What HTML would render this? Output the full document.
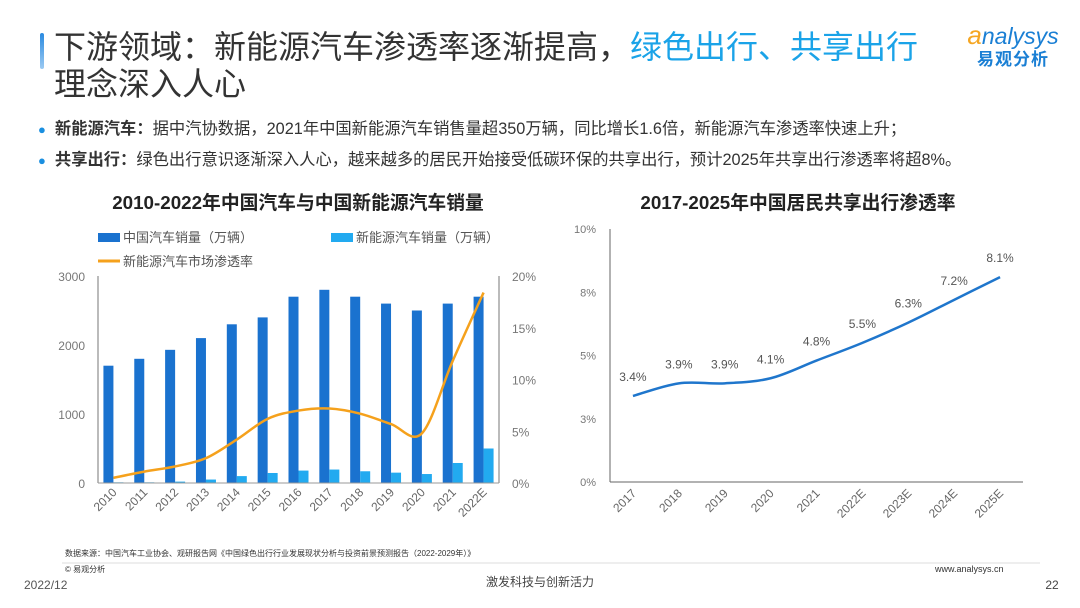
<!DOCTYPE html>
<html><head><meta charset="utf-8"><style>
html,body{margin:0;padding:0;background:#fff;}
body{width:1080px;height:608px;overflow:hidden;position:relative;font-family:"Liberation Sans","Noto Sans CJK SC",sans-serif;}
.abs{position:absolute;white-space:nowrap;}
</style></head><body>
<div class="abs" style="left:40px;top:33px;width:4px;height:36px;background:linear-gradient(#2a8ae0,#9ccaf2);border-radius:2px"></div>
<div class="abs" style="left:54px;top:29px;font-size:32px;line-height:37px;color:#333">下游领域：新能源汽车渗透率逐渐提高，<span style="color:#1aa3e8">绿色出行、共享出行</span><br>理念深入人心</div>
<div class="abs" style="left:952px;top:22px;width:122px;text-align:center">
 <div style="font-size:23px;font-style:italic;color:#1a7fd4;line-height:26px"><span style="color:#f5a623;font-size:26px">a</span>nalysys</div>
 <div style="font-size:17px;font-weight:bold;color:#1a7fd4;line-height:22px;letter-spacing:1px">易观分析</div>
</div>
<div class="abs" style="left:38px;top:115px;font-size:16.3px;color:#333"><span style="color:#1a8fe0;font-size:13px">●</span>&nbsp; <b>新能源汽车：</b>据中汽协数据，2021年中国新能源汽车销售量超350万辆，同比增长1.6倍，新能源汽车渗透率快速上升；</div>
<div class="abs" style="left:38px;top:146px;font-size:16.3px;color:#333"><span style="color:#1a8fe0;font-size:13px">●</span>&nbsp; <b>共享出行：</b>绿色出行意识逐渐深入人心，越来越多的居民开始接受低碳环保的共享出行，预计2025年共享出行渗透率将超8%。</div>

<svg id="chart" width="1080" height="608" style="position:absolute;left:0;top:0" font-family="Liberation Sans, Noto Sans CJK SC, sans-serif">
 <text x="298" y="209" text-anchor="middle" font-size="18.8" font-weight="bold" fill="#222">2010-2022年中国汽车与中国新能源汽车销量</text>
 <text x="798" y="209" text-anchor="middle" font-size="18.8" font-weight="bold" fill="#222">2017-2025年中国居民共享出行渗透率</text>
 <g><rect x="98" y="233" width="22" height="9" fill="#1a72cf"/><text x="123" y="242" font-size="13" fill="#555">中国汽车销量（万辆）</text></g>
 <g><rect x="331" y="233" width="22" height="9" fill="#22aaf0"/><text x="356" y="242" font-size="13" fill="#555">新能源汽车销量（万辆）</text></g>
 <g><line x1="98" y1="261" x2="120" y2="261" stroke="#f5a11c" stroke-width="3"/><text x="123" y="266" font-size="13" fill="#555">新能源汽车市场渗透率</text></g>
 <g id="left"></g><g id="right"></g>
 <text x="65" y="556" font-size="8" fill="#333">数据来源：中国汽车工业协会、观研报告网《中国绿色出行行业发展现状分析与投资前景预测报告（2022-2029年）》</text>
 <line x1="62" y1="563" x2="1040" y2="563" stroke="#ddd" stroke-width="1"/>
 <text x="65" y="572" font-size="8" fill="#333">© 易观分析</text>
 <text x="935" y="572" font-size="9" fill="#333">www.analysys.cn</text>
 <text x="24" y="589" font-size="12" fill="#555">2022/12</text>
 <text x="540" y="586" text-anchor="middle" font-size="12" fill="#444">激发科技与创新活力</text>
 <text x="1052" y="589" text-anchor="middle" font-size="12" fill="#444">22</text>
</svg>
<script>
const cats1=["2010","2011","2012","2013","2014","2015","2016","2017","2018","2019","2020","2021","2022E"];
const totalSales=[1700,1800,1930,2100,2300,2400,2700,2800,2700,2600,2500,2600,2700];
const nevSales=[10,10,20,50,100,145,180,195,170,150,130,290,500];
const penetration=[0.5,1.1,1.6,2.4,4.2,6.2,7.0,7.2,6.7,5.7,4.8,11.8,18.4];
const leftTicks=[0,1000,2000,3000];
const rightTicks=[0,5,10,15,20];
const cats2=["2017","2018","2019","2020","2021","2022E","2023E","2024E","2025E"];
const shareRate=[3.4,3.9,3.9,4.1,4.8,5.5,6.3,7.2,8.1];
const shareTicks=[0,2.5,5,7.5,10];
const shareTickLabels=["0%","3%","5%","8%","10%"];

const NS="http://www.w3.org/2000/svg";
function mk(tag,attrs,parent,txt){const e=document.createElementNS(NS,tag);for(const k in attrs)e.setAttribute(k,attrs[k]);if(txt!==undefined)e.textContent=txt;parent.appendChild(e);return e;}
function smooth(pts){let d="M"+pts[0][0]+","+pts[0][1];for(let i=0;i<pts.length-1;i++){const p0=pts[Math.max(0,i-1)],p1=pts[i],p2=pts[i+1],p3=pts[Math.min(pts.length-1,i+2)];const t=6;d+=" C"+(p1[0]+(p2[0]-p0[0])/t)+","+(p1[1]+(p2[1]-p0[1])/t)+" "+(p2[0]-(p3[0]-p1[0])/t)+","+(p2[1]-(p3[1]-p1[1])/t)+" "+p2[0]+","+p2[1];}return d;}

// left chart
const L=document.getElementById('left');
const lx0=98,lx1=499,ly0=483,ly1=276;
const bw=(lx1-lx0)/cats1.length;
const xL=i=>lx0+(i+0.5)*bw;
const yL=v=>ly0-(v/3000)*(ly0-ly1);
const yR=v=>ly0-(v/20)*(ly0-ly1);
leftTicks.forEach(t=>{const e=mk('text',{x:85,y:yL(t)+5,'text-anchor':'end','font-size':12,fill:'#777'},L,t);

});
rightTicks.forEach(t=>{const e=mk('text',{x:512,y:yR(t)+5,'font-size':12,fill:'#777'},L,t+'%');

});
cats1.forEach((c,i)=>{
 const b=mk('rect',{x:xL(i)-10,y:yL(totalSales[i]),width:10,height:ly0-yL(totalSales[i]),fill:'#1a72cf'},L);
 
 
 const n=mk('rect',{x:xL(i),y:yL(nevSales[i]),width:10,height:ly0-yL(nevSales[i]),fill:'#22aaf0'},L);
 
 
 const t=mk('text',{x:xL(i)+4,y:ly0+10,'text-anchor':'end','font-size':12,fill:'#666',transform:'rotate(-45 '+(xL(i)+4)+' '+(ly0+10)+')'},L,c);
 
 
});
mk('line',{x1:lx0,y1:ly1,x2:lx0,y2:ly0,stroke:'#777'},L);
mk('line',{x1:lx1,y1:ly1,x2:lx1,y2:ly0,stroke:'#777'},L);
mk('line',{x1:lx0,y1:ly0,x2:lx1,y2:ly0,stroke:'#999'},L);
const pl=mk('path',{d:smooth(penetration.map((v,i)=>[xL(i),yR(v)])),fill:'none',stroke:'#f5a11c','stroke-width':2.5},L);



// right chart
const R=document.getElementById('right');
const rx0=610,rx1=1023,ry0=482,ry1=229;
const cw=(rx1-rx0)/cats2.length;
const xS=i=>rx0+(i+0.5)*cw;
const yS=v=>ry0-(v/10)*(ry0-ry1);
shareTicks.forEach((t,i)=>{const e=mk('text',{x:596,y:yS(t)+4,'text-anchor':'end','font-size':11,fill:'#777'},R,shareTickLabels[i]);

});
mk('line',{x1:rx0,y1:ry1,x2:rx0,y2:ry0,stroke:'#666'},R);
mk('line',{x1:rx0,y1:ry0,x2:rx1,y2:ry0,stroke:'#666'},R);
const sl=mk('path',{d:smooth(shareRate.map((v,i)=>[xS(i),yS(v)])),fill:'none',stroke:'#1f76cc','stroke-width':2.5},R);


cats2.forEach((c,i)=>{
 const l=mk('text',{x:xS(i),y:yS(shareRate[i])-15,'text-anchor':'middle','font-size':12,fill:'#555'},R,shareRate[i].toFixed(1)+'%');
 
 
 const t=mk('text',{x:xS(i)+4,y:ry0+12,'text-anchor':'end','font-size':12,fill:'#666',transform:'rotate(-45 '+(xS(i)+4)+' '+(ry0+12)+')'},R,c);
 
 
});
</script>
</body></html>
